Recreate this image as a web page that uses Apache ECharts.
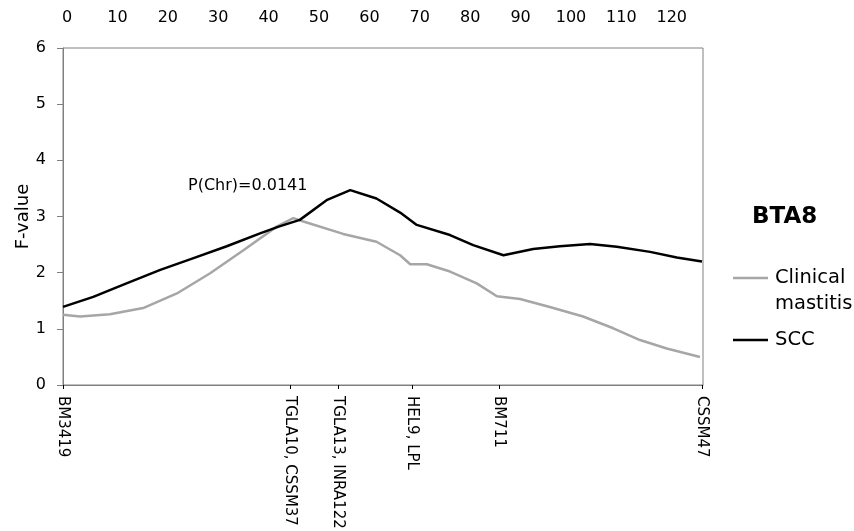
<!DOCTYPE html>
<html>
<head>
<meta charset="utf-8">
<script src="https://cdn.jsdelivr.net/npm/echarts@6/dist/echarts.min.js"></script>
<style>html,body{margin:0;padding:0;background:#fff;}#c{width:854px;height:531px;}</style>
</head>
<body>
<div id="c"></div>
<script>
// Map position (cM, top axis scale)
const xMin = -0.8, xMax = 126.2;
const topTicks = [0,10,20,30,40,50,60,70,80,90,100,110,120];
const yTicks = [0,1,2,3,4,5,6];
// Markers along the bottom axis
const markerNames = ['BM3419','TGLA10, CSSM37','TGLA13, INRA122','HEL9, LPL','BM711','CSSM47'];
const markerPos   = [-0.8, 44.2, 53.8, 68.5, 85.7, 126.0];
// SCC (black)
const sccPos = [-0.8,5.2,11.8,18.5,25.1,31.7,38.3,42,46.2,51.5,56.2,61.4,66.1,69.4,76.0,80.6,86.6,92.5,97.8,103.8,109.1,115.7,121.0,126.0];
const sccVal = [1.39,1.57,1.81,2.05,2.26,2.47,2.70,2.82,2.94,3.29,3.47,3.32,3.07,2.85,2.67,2.49,2.31,2.42,2.47,2.51,2.46,2.37,2.27,2.20];
// Clinical mastitis (grey)
const cmPos = [-0.8,2.6,8.5,15.1,21.8,28.4,35.0,41.6,44.9,46.9,54.8,61.4,66.1,68.1,71.4,76.0,81.3,85.3,89.9,95.8,102.4,108.4,113.7,119.0,125.6];
const cmVal = [1.25,1.22,1.26,1.37,1.63,1.99,2.40,2.82,2.97,2.91,2.69,2.55,2.31,2.15,2.15,2.02,1.81,1.58,1.53,1.39,1.22,1.01,0.80,0.65,0.50];

const FONT = 'DejaVu Sans';
const GREY = '#a6a6a6';
const AXIS = '#808080';

function markerLabel(v){
  let best = 0, bd = 1e9;
  markerPos.forEach((p,i)=>{ const d = Math.abs(p-v); if(d<bd){bd=d;best=i;} });
  return markerNames[best];
}

const chart = echarts.init(document.getElementById('c'), null, {renderer:'canvas'});
chart.setOption({
  animation:false,
  backgroundColor:'#fff',
  grid:{left:63, right:151, top:48, bottom:146, outerBoundsMode:'none', containLabel:false, show:true, borderColor:AXIS, borderWidth:1, backgroundColor:'transparent'},
  xAxis:[{
    type:'value', position:'bottom', min:xMin, max:xMax,
    splitLine:{show:false},
    axisLine:{show:true, onZero:false, lineStyle:{color:AXIS, width:1}},
    axisTick:{show:true, customValues:markerPos, length:4, lineStyle:{color:'#000'}},
    axisLabel:{show:true, customValues:markerPos, rotate:-90, margin:11, fontFamily:FONT, fontSize:15, color:'#000', formatter:markerLabel}
  },{
    type:'value', position:'top', min:xMin, max:xMax,
    splitLine:{show:false},
    axisLine:{show:false, onZero:false},
    axisTick:{show:false},
    axisLabel:{show:true, customValues:topTicks, margin:22, fontFamily:FONT, fontSize:16, color:'#000'}
  }],
  yAxis:{
    type:'value', min:0, max:6, interval:1,
    name:'F-value', nameLocation:'middle', nameRotate:90, nameGap:31, nameMoveOverlap:false,
    nameTextStyle:{fontFamily:FONT, fontSize:18, color:'#000'},
    splitLine:{show:false},
    axisLine:{show:true, onZero:false, lineStyle:{color:AXIS, width:1}},
    axisTick:{show:true, inside:false, length:6, lineStyle:{color:AXIS}},
    axisLabel:{margin:17, fontFamily:FONT, fontSize:16, color:'#000'}
  },
  series:[{
    name:'Clinical mastitis', type:'line', xAxisIndex:0, symbol:'none',
    lineStyle:{color:GREY, width:2.5}, itemStyle:{color:GREY},
    data:cmPos.map((x,i)=>[x,cmVal[i]])
  },{
    name:'SCC', type:'line', xAxisIndex:0, symbol:'none',
    lineStyle:{color:'#000', width:2.5}, itemStyle:{color:'#000'},
    data:sccPos.map((x,i)=>[x,sccVal[i]])
  }],
  graphic:[
    {type:'text', left:188, top:178, style:{text:'P(Chr)=0.0141', font:'16px "DejaVu Sans"', fill:'#000'}},
    {type:'text', left:752, top:206, style:{text:'BTA8', font:'bold 23px "DejaVu Sans"', fill:'#000'}},
    {type:'line', shape:{x1:733,y1:278,x2:768,y2:278}, style:{stroke:GREY, lineWidth:2.5}},
    {type:'text', left:775, top:268, style:{text:'Clinical', font:'19.5px "DejaVu Sans"', fill:'#000'}},
    {type:'text', left:775, top:294, style:{text:'mastitis', font:'19.5px "DejaVu Sans"', fill:'#000'}},
    {type:'line', shape:{x1:733,y1:340,x2:768,y2:340}, style:{stroke:'#000', lineWidth:2.5}},
    {type:'text', left:775, top:330, style:{text:'SCC', font:'19.5px "DejaVu Sans"', fill:'#000'}}
  ]
});
</script>
</body>
</html>
